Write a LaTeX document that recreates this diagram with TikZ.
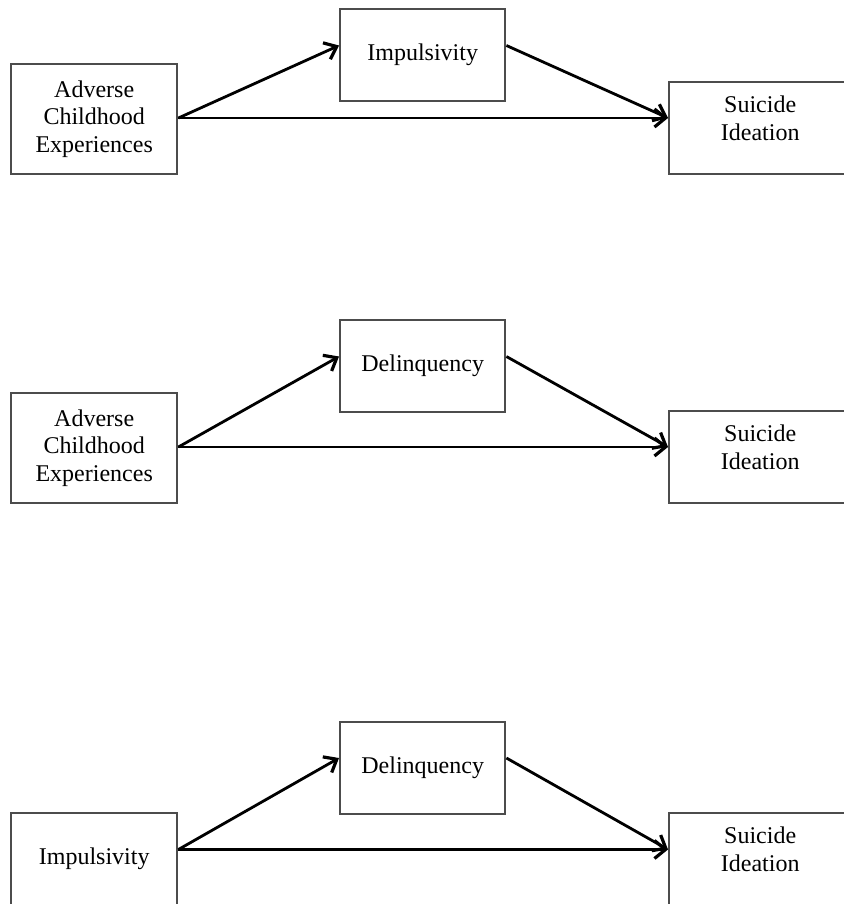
\documentclass[tikz,border=0pt]{standalone}
\usepackage{fontspec}
\setmainfont{Liberation Serif}
\usetikzlibrary{positioning, arrows.meta}
\usetikzlibrary{calc}

\begin{document}
\begin{tikzpicture}[x=0.5pt, y=-0.5pt, font=\fontsize{12pt}{13.8pt}\selectfont,
    box/.style={draw=black!70, line width=1.2pt, rectangle, anchor=north west, align=center, inner sep=0pt},
    srcbox/.style={box, minimum width=83pt, minimum height=55pt},
    medbox/.style={box, minimum width=82.5pt, minimum height=46pt},
    outbox/.style={box, minimum width=91pt, minimum height=46pt},
    arr/.style={-{Straight Barb[length=5.5pt, width=9pt, line width=1.6pt]}, line width=1.4pt}]
        \useasboundingbox (0,0) rectangle (843,904);

        % ACE -> impulsivity -> suicide ideation
        \node[srcbox] (ace1) at (10,63) {Adverse\\Childhood\\Experiences};
        \node[medbox] (imp1) at (339,8) {Impulsivity};
        \node[outbox] (si1) at (668,81) {};
        \coordinate (in1) at ([yshift=-18.5pt]si1.north west);
        \coordinate (mi1) at ([yshift=-18.75pt]imp1.north west);
        \coordinate (mo1) at ([yshift=-18.75pt]imp1.north east);
        \node[align=center] (si1t) at (si1.center |- in1) {Suicide\\Ideation};

        \path[arr]
        (ace1.east |- in1) edge (mi1)
        (ace1.east |- in1) edge (in1)
            (mo1) edge (in1);

        % ACE -> delinquency -> suicide ideation
        \node[srcbox] (ace2) at (10,392) {Adverse\\Childhood\\Experiences};
        \node[medbox] (del2) at (339,319) {Delinquency};
        \node[outbox] (si2) at (668,410) {};
        \coordinate (in2) at ([yshift=-18.5pt]si2.north west);
        \coordinate (mi2) at ([yshift=-18.75pt]del2.north west);
        \coordinate (mo2) at ([yshift=-18.75pt]del2.north east);
        \node[align=center] (si2t) at (si2.center |- in2) {Suicide\\Ideation};

        \path[arr]
        (ace2.east |- in2) edge (mi2)
        (ace2.east |- in2) edge (in2)
            (mo2) edge (in2);

        % impulsivity -> delinquency -> suicide ideation
        \node[medbox, minimum width=83pt] (imp3) at (10,812) {Impulsivity};
        \node[medbox] (del3) at (339,721) {Delinquency};
        \node[outbox] (si3) at (668,812) {};
        \coordinate (in3) at ([yshift=-18.75pt]si3.north west);
        \coordinate (mi3) at ([yshift=-18.5pt]del3.north west);
        \coordinate (mo3) at ([yshift=-18.5pt]del3.north east);
        \node[align=center] (si3t) at (si3.center |- in3) {Suicide\\Ideation};

        \path[arr]
        (imp3.east |- in3) edge (mi3)
        (imp3.east |- in3) edge (in3)
            (mo3) edge (in3);
\end{tikzpicture}
\end{document}
